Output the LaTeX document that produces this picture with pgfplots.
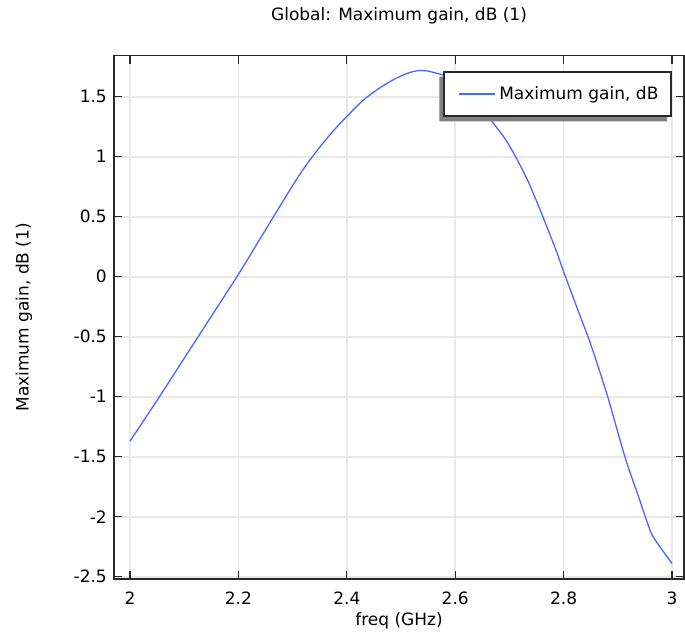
\documentclass[border=0pt]{standalone}
\usepackage{fontspec}
\setmainfont{DejaVu Sans}
\usepackage{pgfplots}
\pgfplotsset{compat=1.18}
\definecolor{curve}{RGB}{70,105,255}
\definecolor{gridc}{RGB}{232,232,232}
\definecolor{spine}{RGB}{40,40,40}
\definecolor{shadowc}{RGB}{128,128,128}
\begin{document}
\begin{tikzpicture}
\useasboundingbox (0pt,0pt) rectangle (685pt,634pt);
\fontsize{17}{20}\selectfont
\begin{axis}[
  at={(114pt,55pt)}, anchor=south west,
  scale only axis, width=570pt, height=523.3pt,
  xmin=1.9705, xmax=3.0221, ymin=-2.519, ymax=1.842,
  xtick={2,2.2,2.4,2.6,2.8,3},
  ytick={-2.5,-2,-1.5,-1,-0.5,0,0.5,1,1.5},
  xticklabels={2,2.2,2.4,2.6,2.8,3},
  yticklabels={-2.5,-2,-1.5,-1,-0.5,0,0.5,1,1.5},
  tick align=inside, major tick length=8pt,
  tick style={spine, line width=1.2pt},
  axis line style={spine, line width=1.3pt},
  grid=major, major grid style={gridc, line width=1.6pt},
  xticklabel style={font=\fontsize{17}{20}\selectfont, inner sep=0pt, anchor=north, yshift=-12.7pt},
  yticklabel style={font=\fontsize{17}{20}\selectfont, inner sep=0pt, anchor=east, xshift=-7pt},
  title={Global: Maximum gain, dB (1)},
  title style={font=\fontsize{17}{20}\selectfont, at={(0.5,1)}, anchor=south, inner sep=0pt, yshift=25pt},
  xlabel={freq (GHz)},
  xlabel style={font=\fontsize{17}{20}\selectfont, at={(0.5,0)}, anchor=north, inner sep=0pt, yshift=-33pt},
  ylabel={Maximum gain, dB (1)},
  ylabel style={font=\fontsize{17}{20}\selectfont, at={(-0.158,0.5)}, anchor=center, inner sep=0pt},
  legend style={name=leg, at={(1,1)}, anchor=north east, xshift=-13pt, yshift=-16pt,
    draw=spine, line width=1.2pt, fill=white, inner xsep=8pt, inner ysep=10pt,
    font=\fontsize{17}{20}\selectfont,
    nodes={inner xsep=4pt, inner ysep=4pt}},
  legend image code/.code={\path (0pt,0pt); \draw[#1] (6pt,0pt) -- (42pt,0pt);},
  legend cell align=left,
]
\addplot[curve, line width=1.3pt, smooth, tension=0.4] coordinates {
(2.000,-1.37) (2.050,-1.03) (2.100,-0.68) (2.150,-0.33) (2.200,0.02)
(2.250,0.39) (2.300,0.76) (2.325,0.93) (2.351,1.085) (2.375,1.215)
(2.403,1.35) (2.430,1.47) (2.458,1.565) (2.483,1.635) (2.501,1.675)
(2.517,1.703) (2.532,1.718) (2.547,1.716) (2.562,1.70) (2.578,1.68)
(2.600,1.63) (2.630,1.51) (2.665,1.31) (2.692,1.15) (2.713,0.987)
(2.735,0.79) (2.760,0.52) (2.786,0.22) (2.801,0.03) (2.824,-0.25)
(2.849,-0.55) (2.880,-0.98) (2.913,-1.50) (2.938,-1.83) (2.962,-2.14)
(2.984,-2.29) (3.000,-2.39)
};
\addlegendentry{Maximum gain, dB}
\end{axis}
\fill[shadowc] ([shift={(-4pt,-5pt)}]leg.south west) -- ([shift={(-4pt,-5pt)}]leg.south east)
  -- ([shift={(-4pt,0pt)}]leg.south east) -- (leg.south west)
  -- ([shift={(0pt,-5pt)}]leg.north west) -- ([shift={(-4pt,-5pt)}]leg.north west) -- cycle;
\draw[spine, line width=1.2pt] (leg.south west) rectangle (leg.north east);
\end{tikzpicture}
\end{document}
